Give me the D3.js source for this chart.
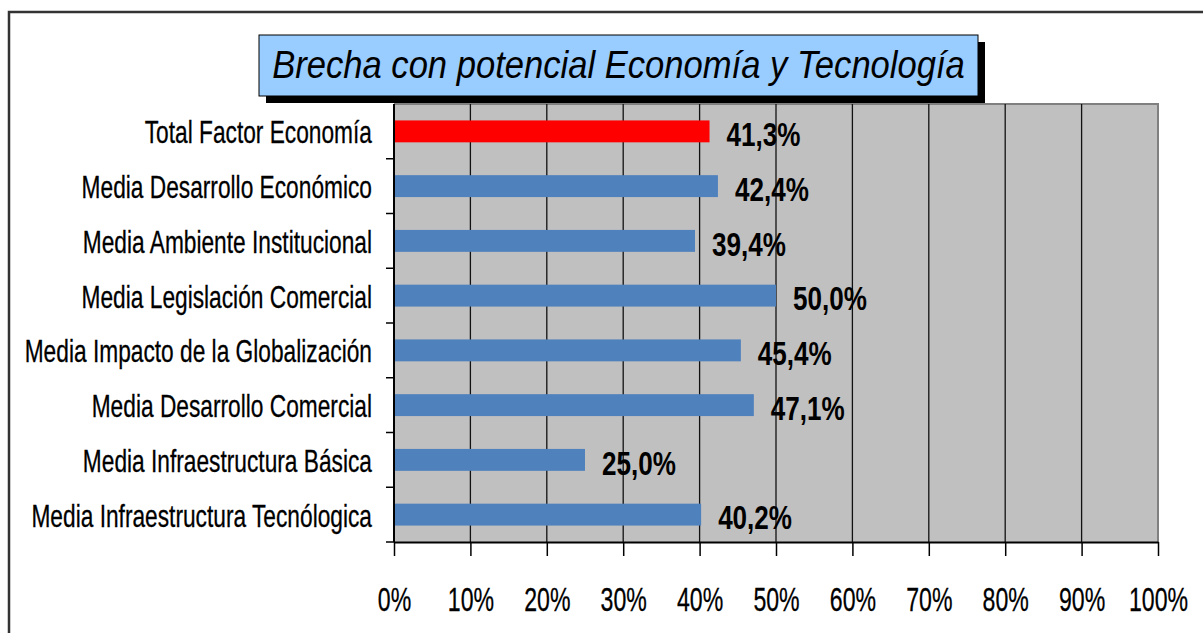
<!DOCTYPE html>
<html>
<head>
<meta charset="utf-8">
<script src="https://cdn.jsdelivr.net/npm/d3@7"></script>
<style>
  body { margin: 0; background: #fff; }
  svg text { font-family: "Liberation Sans", Arial, sans-serif; }
</style>
</head>
<body>
<div id="chart"></div>
<script>
const title = "Brecha con potencial Economía y Tecnología";
const categories = [
    "Total Factor Economía",
    "Media Desarrollo Económico",
    "Media Ambiente Institucional",
    "Media Legislación Comercial",
    "Media Impacto de la Globalización",
    "Media Desarrollo Comercial",
    "Media Infraestructura Básica",
    "Media Infraestructura Tecnólogica"
];
const values = [41.3, 42.4, 39.4, 50.0, 45.4, 47.1, 25.0, 40.2];
const highlight = "Total Factor Economía";
const xTicks = [0, 10, 20, 30, 40, 50, 60, 70, 80, 90, 100];

const width = 1203;
const height = 633;
const plot = { left: 394, right: 1158, top: 104, bottom: 542 };

const svg = d3
    .select("#chart")
    .append("svg")
    .attr("width", width)
    .attr("height", height);

// outer chart frame (cut off at right and bottom)
svg.append("path")
    .attr("d", "M9," + height + " V12 H" + width)
    .attr("fill", "none")
    .attr("stroke", "#333")
    .attr("stroke-width", 2.5);

const x = d3.scaleLinear().domain([0, 100]).range([plot.left, plot.right]);
const y = d3
    .scaleBand()
    .domain(categories)
    .range([plot.top, plot.bottom])
    .paddingInner(0.6)
    .paddingOuter(0.3);

// plot area
svg.append("rect")
    .attr("x", plot.left)
    .attr("y", plot.top)
    .attr("width", plot.right - plot.left)
    .attr("height", plot.bottom - plot.top)
    .attr("fill", "#c0c0c0");

svg.append("path")
    .attr("d", "M" + plot.left + "," + plot.top + " H" + plot.right + " V" + plot.bottom)
    .attr("fill", "none")
    .attr("stroke", "#808080")
    .attr("stroke-width", 2);

// vertical gridlines
svg.selectAll(".grid")
    .data(xTicks.filter(t => t > 0 && t < 100))
    .enter()
    .append("line")
    .attr("class", "grid")
    .attr("x1", d => x(d))
    .attr("x2", d => x(d))
    .attr("y1", plot.top)
    .attr("y2", plot.bottom)
    .attr("stroke", "#111")
    .attr("stroke-width", 1.3);

// bars
svg.selectAll(".bar")
    .data(categories)
    .enter()
    .append("rect")
    .attr("class", "bar")
    .attr("x", x(0))
    .attr("y", d => y(d))
    .attr("width", (d, i) => x(values[i]) - x(0))
    .attr("height", y.bandwidth())
    .attr("fill", d => (d === highlight ? "#ff0000" : "#4f81bd"));

// value labels
svg.selectAll(".valueLabel")
    .data(categories)
    .enter()
    .append("text")
    .attr("class", "valueLabel")
    .attr("transform", (d, i) =>
        "translate(" + (x(values[i]) + 17) + "," + (y(d) + y.bandwidth() / 2 + 3) + ") scale(0.79,1)")
    .attr("dominant-baseline", "central")
    .attr("font-size", "33px")
    .attr("font-weight", "bold")
    .attr("fill", "#000")
    .text((d, i) => values[i].toFixed(1).replace(".", ",") + "%");

// x axis
const xAxis = svg.append("g")
    .attr("transform", "translate(0," + plot.bottom + ")")
    .call(d3.axisBottom(x).tickValues(xTicks).tickSize(14).tickSizeOuter(0).tickFormat(d => d + "%"));

xAxis.select(".domain").attr("stroke", "#000").attr("stroke-width", 2);
xAxis.selectAll(".tick line").attr("stroke", "#000").attr("stroke-width", 1.5);
xAxis.selectAll(".tick text")
    .attr("y", 45)
    .attr("dy", "0.71em")
    .attr("transform", "scale(0.68,1)")
    .attr("font-size", "34px")
    .attr("font-family", null)
    .attr("fill", "#000")
    .attr("stroke", "#000")
    .attr("stroke-width", 0.3);

// y axis: line, ticks between categories, labels
svg.append("line")
    .attr("x1", plot.left)
    .attr("x2", plot.left)
    .attr("y1", plot.top)
    .attr("y2", plot.bottom)
    .attr("stroke", "#000")
    .attr("stroke-width", 2);

const gap = (y.step() - y.bandwidth()) / 2;
const boundaries = categories.map(d => y(d) - gap).slice(1).concat([plot.bottom]);

svg.selectAll(".ytick")
    .data(boundaries)
    .enter()
    .append("line")
    .attr("class", "ytick")
    .attr("x1", plot.left - 8)
    .attr("x2", plot.left)
    .attr("y1", d => d)
    .attr("y2", d => d)
    .attr("stroke", "#000")
    .attr("stroke-width", 1.5);

svg.selectAll(".catLabel")
    .data(categories)
    .enter()
    .append("text")
    .attr("class", "catLabel")
    .attr("transform", d => "translate(372," + (y(d) + y.bandwidth() / 2 + 1) + ") scale(0.71,1)")
    .attr("text-anchor", "end")
    .attr("dominant-baseline", "central")
    .attr("font-size", "32px")
    .attr("fill", "#000")
    .attr("stroke", "#000")
    .attr("stroke-width", 0.3)
    .text(d => d);

// title box with shadow
const box = { x: 259, y: 35, w: 719, h: 61 };

svg.append("rect")
    .attr("x", box.x + 7)
    .attr("y", box.y + 7)
    .attr("width", box.w)
    .attr("height", box.h)
    .attr("fill", "#000");

svg.append("rect")
    .attr("x", box.x)
    .attr("y", box.y)
    .attr("width", box.w)
    .attr("height", box.h)
    .attr("fill", "#99ccff")
    .attr("stroke", "#000")
    .attr("stroke-width", 1);

svg.append("text")
    .attr("transform", "translate(" + (box.x + box.w / 2) + ",78) scale(0.91,1)")
    .attr("text-anchor", "middle")
    .attr("font-size", "38px")
    .attr("font-style", "italic")
    .attr("fill", "#000")
    .text(title);
</script>
</body>
</html>
